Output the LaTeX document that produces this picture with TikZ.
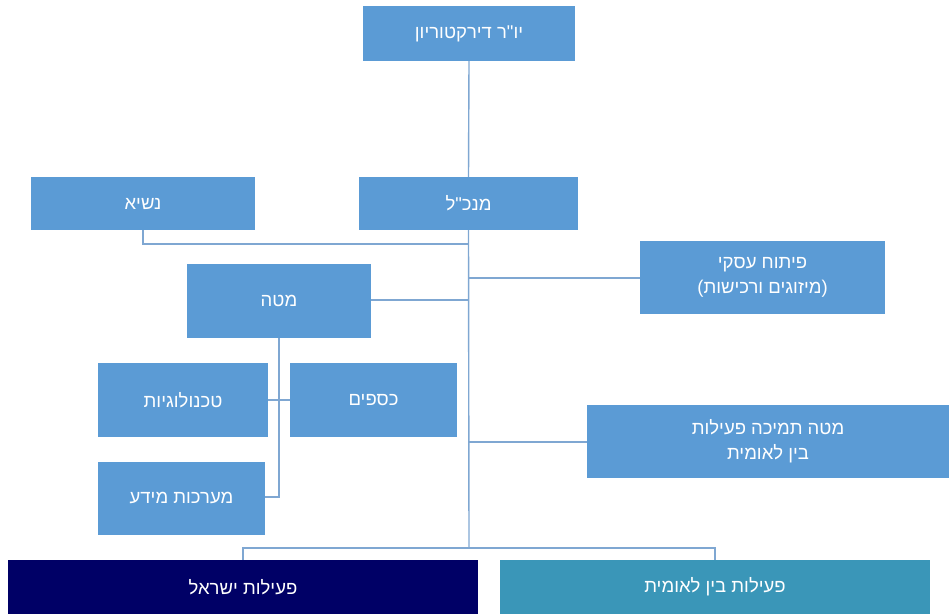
\documentclass[tikz,border=0pt]{standalone}
\usepackage{fontspec}
\TeXXeTstate=1
\newfontfamily\hebfont[Script=Hebrew]{Liberation Sans}
\definecolor{boxblue}{HTML}{5B9BD5}
\definecolor{navy}{HTML}{000066}
\definecolor{teal}{HTML}{3A96B8}
\definecolor{linec}{HTML}{7FA7D2}
\newcommand{\heb}[1]{\beginR #1\endR}
\tikzset{
  orgbox/.style={fill=boxblue, draw=none, text=white, inner sep=0pt, align=center,
    font=\hebfont\fontsize{18.5}{25}\selectfont},
  link/.style={draw=linec, line width=1.4pt}
}
\begin{document}
\begin{tikzpicture}[x=1pt,y=-1pt]
\useasboundingbox (0,0) rectangle (949,614);
\node[orgbox, minimum width=212pt, minimum height=55pt] (chair) at (469,33.5) {\heb{יו"ר דירקטוריון}};
\node[orgbox, minimum width=219pt, minimum height=53pt] (ceo) at (468.5,203.5) {\heb{מנכ"ל}};
\node[orgbox, minimum width=224pt, minimum height=53pt] (pres) at (143,203.5) {\heb{נשיא}};
\node[orgbox, minimum width=245pt, minimum height=73pt] (dev) at (762.5,277.5) {\heb{פיתוח עסקי}\\\heb{(מיזוגים ורכישות)}};
\node[orgbox, minimum width=184pt, minimum height=74pt] (staff) at (279,301) {\heb{מטה}};
\node[orgbox, minimum width=170pt, minimum height=74pt] (tech) at (183,400) {\heb{טכנולוגיות}};
\node[orgbox, minimum width=167pt, minimum height=74pt] (fin) at (373.5,400) {\heb{כספים}};
\node[orgbox, minimum width=167pt, minimum height=73pt] (is) at (181.5,498.5) {\heb{מערכות מידע}};
\node[orgbox, minimum width=362pt, minimum height=73pt] (intsup) at (768,441.5) {\heb{מטה תמיכה פעילות}\\\heb{בין לאומית}};
\node[orgbox, fill=navy, minimum width=470pt, minimum height=54pt] (isr) at (243,587) {\heb{פעילות ישראל}};
\node[orgbox, fill=teal, minimum width=430pt, minimum height=54pt] (intl) at (715,587) {\heb{פעילות בין לאומית}};
\coordinate (spine) at (469,548);
\coordinate (presj) at (469,244);
\coordinate (devj) at (469,278);
\coordinate (staffj) at (469,300);
\coordinate (intj) at (469,442);
\coordinate (sub) at (279,400);
\coordinate (isj) at (279,497);
\draw[link] (chair.south) -- (ceo.north);
\draw[link] (ceo.south) -- (spine);
\draw[link] (pres.south) |- (presj);
\draw[link] (devj) -- (devj -| dev.west);
\draw[link] (staffj) -- (staffj -| staff.east);
\draw[link] (intj) -- (intj -| intsup.west);
\draw[link] (staff.south) -- (isj) -- (isj -| is.east);
\draw[link] (sub -| tech.east) -- (sub -| fin.west);
\draw[link] (isr.north) |- (spine) -| (intl.north);
\end{tikzpicture}
\end{document}
